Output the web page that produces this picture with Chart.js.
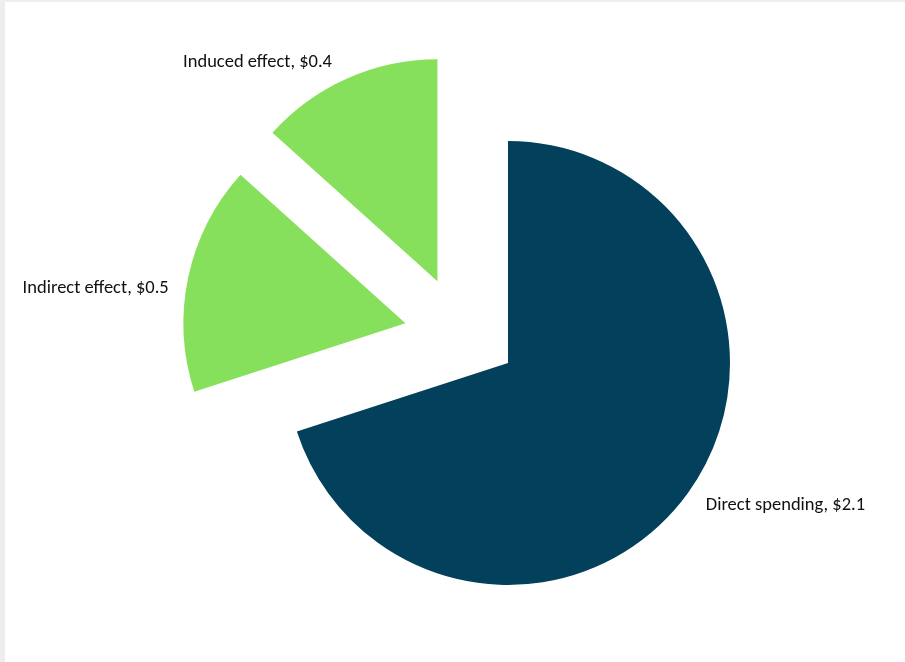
<!DOCTYPE html>
<html>
<head>
<meta charset="utf-8">
<script src="https://cdn.jsdelivr.net/npm/chart.js@4.4.1/dist/chart.umd.min.js"></script>
<style>
  html, body { margin: 0; padding: 0; background: #eeeeee; overflow: hidden; }
  #wrap { position: absolute; left: 5px; top: 2px; width: 900px; height: 660px; background: #ffffff; }
  canvas { display: block; }
</style>
</head>
<body>
<div id="wrap"><canvas id="chart" width="900" height="660"></canvas></div>
<script>
// Economic impact, $ billions
const categories = ['Direct spending', 'Indirect effect', 'Induced effect'];
const values = [2.1, 0.5, 0.4];
const valueLabels = ['$2.1', '$0.5', '$0.4'];

const sliceColors = ['#02405B', '#87E05B', '#87E05B'];

// Pull selected slices away from the pie centre (distance in px, direction in degrees).
const explodePlugin = {
  id: 'explode',
  afterDatasetUpdate(chart, args, opts) {
    args.meta.data.forEach((arc, i) => {
      const s = opts.slices[i];
      if (!s) return;
      const a = s.direction * Math.PI / 180;
      arc.x += s.distance * Math.cos(a);
      arc.y += s.distance * Math.sin(a);
    });
  }
};

// Category name and value outside each slice.
const sliceLabelPlugin = {
  id: 'sliceLabels',
  afterDatasetsDraw(chart, args, opts) {
    const ctx = chart.ctx;
    const meta = chart.getDatasetMeta(0);
    ctx.save();
    ctx.font = opts.font;
    ctx.fillStyle = opts.color;
    ctx.textBaseline = 'middle';
    meta.data.forEach((arc, i) => {
      const { x, y, startAngle, endAngle, outerRadius } = arc.getProps(['x', 'y', 'startAngle', 'endAngle', 'outerRadius'], true);
      const mid = (startAngle + endAngle) / 2;
      const r = outerRadius + opts.gap;
      const nudge = opts.nudge[i] || [0, 0];
      const lx = x + Math.cos(mid) * r + nudge[0];
      const ly = y + Math.sin(mid) * r + nudge[1];
      ctx.textAlign = Math.cos(mid) < 0 ? 'right' : 'left';
      ctx.fillText(categories[i] + ', ' + valueLabels[i], lx, ly);
    });
    ctx.restore();
  }
};

new Chart(document.getElementById('chart'), {
  type: 'pie',
  data: {
    labels: categories,
    datasets: [{
      data: values,
      backgroundColor: sliceColors,
      borderWidth: 0
    }]
  },
  options: {
    responsive: false,
    devicePixelRatio: 1,
    animation: false,
    events: [],
    radius: 222,
    layout: { padding: { left: 106, right: 0, top: 62, bottom: 0 } },
    plugins: {
      legend: { display: false },
      tooltip: { enabled: false },
      explode: {
        slices: [null, { distance: 110, direction: -158.8 }, { distance: 108, direction: -130.8 }]
      },
      sliceLabels: {
        font: '18.5px Carlito, Lato, "Liberation Sans", sans-serif',
        color: '#111111',
        gap: 20,
        nudge: [[2, 0], [0, 15], [-7, 2]]
      }
    }
  },
  plugins: [explodePlugin, sliceLabelPlugin]
});
</script>
</body>
</html>
